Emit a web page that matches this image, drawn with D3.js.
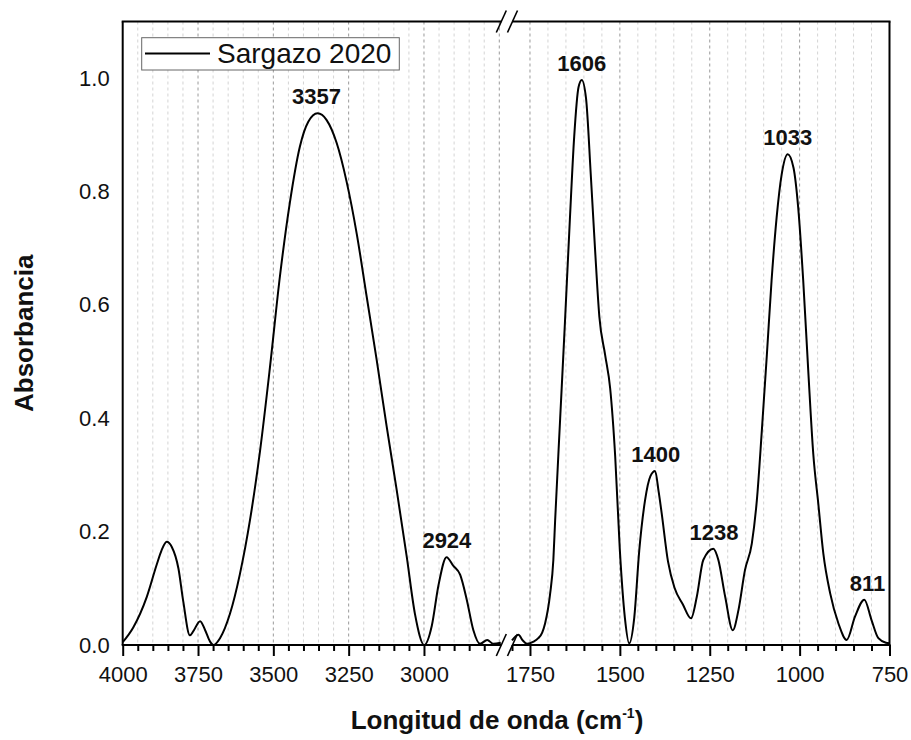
<!DOCTYPE html>
<html>
<head>
<meta charset="utf-8">
<script src="https://cdn.jsdelivr.net/npm/d3@7"></script>
<style>
  html, body { margin: 0; padding: 0; background: #fff; }
  svg text { font-family: Arial, "Liberation Sans", sans-serif; fill: #111; }
</style>
</head>
<body>
<div id="chart"></div>
<script>
// Spectrum (wavenumber in cm-1, absorbance)
const leftWavenumbers = [4000, 3965, 3920, 3887, 3871, 3854, 3837, 3815, 3799, 3777, 3766, 3743, 3727, 3710, 3699,
  3677, 3644, 3611, 3577, 3544, 3511, 3478, 3445, 3412, 3384, 3353, 3323, 3290, 3257, 3223, 3190, 3157, 3124,
  3091, 3057, 3030, 2999, 2974, 2952, 2925, 2903, 2880, 2858, 2836, 2814, 2790, 2770, 2745];
const leftAbsorbance = [0.005, 0.031, 0.085, 0.142, 0.167, 0.182, 0.173, 0.135, 0.077, 0.017, 0.024, 0.042, 0.027, 0.006, 0.0,
  0.012, 0.055, 0.125, 0.222, 0.343, 0.491, 0.651, 0.781, 0.879, 0.923, 0.938, 0.926, 0.886, 0.818, 0.725, 0.614, 0.503, 0.386,
  0.275, 0.155, 0.055, 0.0, 0.034, 0.105, 0.155, 0.140, 0.124, 0.080, 0.026, 0.002, 0.009, 0.002, 0.004];

const rightWavenumbers = [1800, 1782, 1770, 1758, 1740, 1727, 1716, 1708, 1694, 1685, 1680, 1666, 1653, 1639, 1627,
  1615, 1606, 1594, 1581, 1569, 1557, 1541, 1527, 1513, 1500, 1486, 1474, 1460, 1446, 1430, 1415, 1402, 1392, 1384,
  1366, 1348, 1325, 1302, 1286, 1268, 1240, 1226, 1207, 1186, 1170, 1152, 1133, 1119, 1105, 1091, 1078, 1064, 1050,
  1033, 1017, 1004, 990, 976, 962, 948, 934, 915, 892, 869, 846, 820, 800, 781, 760, 750];
const rightAbsorbance = [0.008, 0.018, 0.008, 0.002, 0.006, 0.012, 0.022, 0.038, 0.09, 0.15, 0.22, 0.40, 0.566, 0.751, 0.897,
  0.984, 0.997, 0.964, 0.831, 0.698, 0.579, 0.512, 0.453, 0.333, 0.167, 0.048, 0.003, 0.048, 0.167, 0.255, 0.298, 0.307, 0.27, 0.234,
  0.147, 0.101, 0.072, 0.047, 0.085, 0.150, 0.170, 0.150, 0.085, 0.026, 0.062, 0.132, 0.179, 0.255, 0.379, 0.513, 0.643, 0.754, 0.830,
  0.866, 0.842, 0.772, 0.643, 0.484, 0.337, 0.249, 0.161, 0.091, 0.038, 0.009, 0.050, 0.080, 0.044, 0.012, 0.004, 0.003];

const peakLabels = [3357, 2924, 1606, 1400, 1238, 1033, 811];
const peakHeights = [0.938, 0.155, 0.997, 0.307, 0.170, 0.866, 0.080];

const leftMajorTicks = [4000, 3750, 3500, 3250, 3000];
const rightMajorTicks = [1750, 1500, 1250, 1000, 750];
const yTicks = [0.0, 0.2, 0.4, 0.6, 0.8, 1.0];

const seriesName = 'Sargazo 2020';

// layout
const W = 911, H = 740;
const plot = { left: 122.7, right: 889.5, top: 21.5, bottom: 645 };
const breakLeftX = 500.8, breakRightX = 512;

const svg = d3.select('#chart').append('svg')
  .attr('width', W).attr('height', H);

const xLeft = d3.scaleLinear().domain([4000, 2745]).range([plot.left, breakLeftX]);
const xRight = d3.scaleLinear().domain([1800, 750]).range([breakRightX, plot.right]);
const y = d3.scaleLinear().domain([0, 1.1]).range([plot.bottom, plot.top]);

const segments = [
  { x: xLeft, wn: leftWavenumbers, ab: leftAbsorbance, major: leftMajorTicks },
  { x: xRight, wn: rightWavenumbers, ab: rightAbsorbance, major: rightMajorTicks }
];

// vertical dashed grid, every 50 cm-1
segments.forEach(seg => {
  const [d0, d1] = seg.x.domain();
  const minor = d3.range(Math.floor(d0 / 50) * 50, d1, -50).filter(v => v < d0 && v > d1);
  svg.append('g').selectAll('line')
    .data(minor)
    .enter().append('line')
    .attr('x1', d => seg.x(d)).attr('x2', d => seg.x(d))
    .attr('y1', plot.top).attr('y2', plot.bottom)
    .style('stroke', d => d % 250 === 0 ? '#9a9a9a' : '#d4d4d4')
    .style('stroke-width', 1)
    .style('stroke-dasharray', '3,3');
});

// spectrum
const line = d3.line()
  .x(d => d.px)
  .y(d => y(d.v))
  .curve(d3.curveMonotoneX);

segments.forEach(seg => {
  const pts = seg.wn.map((w, i) => ({ px: seg.x(w), v: seg.ab[i] }));
  svg.append('path')
    .attr('d', line(pts))
    .style('fill', 'none')
    .style('stroke', '#000')
    .style('stroke-width', 2);
});

// x axes: major ticks with labels, minor ticks without
segments.forEach(seg => {
  const [d0, d1] = seg.x.domain();
  const minor = d3.range(Math.floor(d0 / 50) * 50, d1 - 1, -50).filter(v => v <= d0 && v >= d1 && v % 250 !== 0);
  const gMinor = svg.append('g')
    .attr('transform', `translate(0,${plot.bottom})`)
    .call(d3.axisBottom(seg.x).tickValues(minor).tickSize(6).tickFormat(''));
  const gMajor = svg.append('g')
    .attr('transform', `translate(0,${plot.bottom})`)
    .call(d3.axisBottom(seg.x).tickValues(seg.major).tickSize(11).tickPadding(10).tickFormat(d3.format('d')));
  [gMinor, gMajor].forEach(g => {
    g.select('.domain').remove();
    g.selectAll('line').style('stroke', '#000').style('stroke-width', 2);
  });
  gMajor.selectAll('text')
    .style('font-size', '22px')
    .style('font-family', 'Arial, "Liberation Sans", sans-serif')
    .style('fill', '#111');
});

// y axis
const gy = svg.append('g')
  .attr('transform', `translate(${plot.left},0)`)
  .call(d3.axisLeft(y).tickValues(yTicks).tickSize(0).tickPadding(13).tickFormat(d3.format('.1f')));
gy.select('.domain').remove();
gy.selectAll('text')
  .style('font-size', '22px')
  .style('font-family', 'Arial, "Liberation Sans", sans-serif')
  .style('fill', '#111');

// frame with the axis break
const frame = svg.append('g').style('stroke', '#000').style('stroke-width', 2).style('fill', 'none');
frame.append('line').attr('x1', plot.left).attr('x2', plot.left).attr('y1', plot.top).attr('y2', plot.bottom);
frame.append('line').attr('x1', plot.right).attr('x2', plot.right).attr('y1', plot.top).attr('y2', plot.bottom);
[plot.top, plot.bottom].forEach(yy => {
  frame.append('line').attr('x1', plot.left - 1).attr('x2', breakLeftX + 0.5).attr('y1', yy).attr('y2', yy);
  frame.append('line').attr('x1', breakRightX + 0.5).attr('x2', plot.right + 1).attr('y1', yy).attr('y2', yy);
  [breakLeftX + 0.5, breakRightX + 0.5].forEach(bx => {
    frame.append('line')
      .attr('x1', bx - 5).attr('y1', yy + 11)
      .attr('x2', bx + 5).attr('y2', yy - 11)
      .style('stroke-width', 1.6);
  });
});

// peak labels
svg.append('g').selectAll('text')
  .data(peakLabels)
  .enter().append('text')
  .attr('x', d => (d > 2000 ? xLeft(d) : xRight(d)))
  .attr('y', (d, i) => y(peakHeights[i]) - 9)
  .attr('text-anchor', 'middle')
  .style('font-size', '22px')
  .style('font-weight', 'bold')
  .text(d => d);

// legend
const legend = svg.append('g');
legend.append('rect')
  .attr('x', 141.7).attr('y', 37.7).attr('width', 257.6).attr('height', 32.3)
  .style('fill', '#fff').style('stroke', '#666').style('stroke-width', 1);
legend.append('line')
  .attr('x1', 145).attr('x2', 210).attr('y1', 53.5).attr('y2', 53.5)
  .style('stroke', '#000').style('stroke-width', 2);
legend.append('text')
  .attr('x', 217).attr('y', 62.5)
  .style('font-size', '28px')
  .text(seriesName);

// axis titles
const xTitle = svg.append('text')
  .attr('x', 497).attr('y', 729)
  .attr('text-anchor', 'middle')
  .style('font-size', '26px')
  .style('font-weight', 'bold');
xTitle.append('tspan').text('Longitud de onda (cm');
xTitle.append('tspan').attr('dy', -11).style('font-size', '14px').text('-1');
xTitle.append('tspan').attr('dy', 11).text(')');

svg.append('text')
  .attr('transform', `translate(33,${(plot.top + plot.bottom) / 2}) rotate(-90)`)
  .attr('text-anchor', 'middle')
  .style('font-size', '26px')
  .style('font-weight', 'bold')
  .text('Absorbancia');
</script>
</body>
</html>
